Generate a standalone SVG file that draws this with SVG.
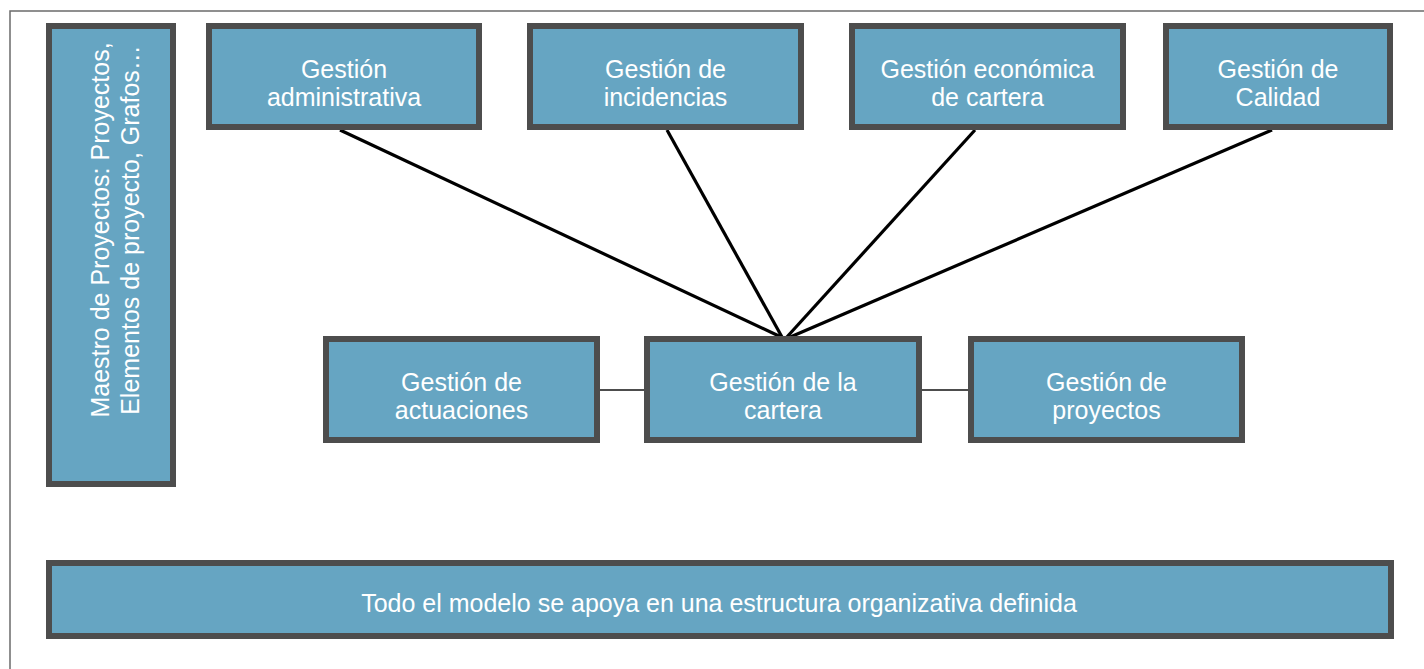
<svg xmlns="http://www.w3.org/2000/svg" width="1424" height="669" viewBox="0 0 1424 669">
<style>
.box{fill:#66a5c2;stroke:#4d4d4d;stroke-width:6}
.t{font-family:"Liberation Sans",Arial,sans-serif;font-size:25px;fill:#ffffff;text-anchor:middle}
.c{stroke:#000;stroke-width:3.2;fill:none}
.h{stroke:#4d4d4d;stroke-width:2;fill:none}
</style>
<rect x="10" y="11" width="1430" height="680" fill="#fff" stroke="#6b6b6b" stroke-width="1.5"/>
<g id="connectors">
<line class="c" x1="340" y1="130" x2="781" y2="337"/>
<line class="c" x1="667" y1="130" x2="782" y2="337"/>
<line class="c" x1="975" y1="130" x2="786" y2="338"/>
<line class="c" x1="1272" y1="130" x2="788" y2="338"/>
<line class="h" x1="600" y1="390" x2="644" y2="390"/>
<line class="h" x1="922" y1="390" x2="968" y2="390"/>
</g>
<g id="maestro">
<rect class="box" x="49" y="26" width="124" height="458"/>
<text class="t" transform="translate(109,230) rotate(-90)"><tspan x="0" y="0">Maestro de Proyectos: Proyectos,</tspan><tspan x="0" y="30">Elementos de proyecto, Grafos…</tspan></text>
</g>
<g id="administrativa">
<rect class="box" x="209" y="26" width="270" height="101"/>
<text class="t"><tspan x="344" y="78">Gestión</tspan><tspan x="344" y="106">administrativa</tspan></text>
</g>
<g id="incidencias">
<rect class="box" x="530" y="26" width="271" height="101"/>
<text class="t"><tspan x="665.5" y="78">Gestión de</tspan><tspan x="665.5" y="106">incidencias</tspan></text>
</g>
<g id="economica">
<rect class="box" x="852" y="26" width="271" height="101"/>
<text class="t"><tspan x="987.5" y="78">Gestión económica</tspan><tspan x="987.5" y="106">de cartera</tspan></text>
</g>
<g id="calidad">
<rect class="box" x="1166" y="26" width="224" height="101"/>
<text class="t"><tspan x="1278" y="78">Gestión de</tspan><tspan x="1278" y="106">Calidad</tspan></text>
</g>
<g id="actuaciones">
<rect class="box" x="326" y="339" width="271" height="101"/>
<text class="t"><tspan x="461.5" y="391">Gestión de</tspan><tspan x="461.5" y="419">actuaciones</tspan></text>
</g>
<g id="cartera">
<rect class="box" x="647" y="339" width="272" height="101"/>
<text class="t"><tspan x="783" y="391">Gestión de la</tspan><tspan x="783" y="419">cartera</tspan></text>
</g>
<g id="proyectos">
<rect class="box" x="971" y="339" width="271" height="101"/>
<text class="t"><tspan x="1106.5" y="391">Gestión de</tspan><tspan x="1106.5" y="419">proyectos</tspan></text>
</g>
<g id="estructura">
<rect class="box" x="49" y="563" width="1342" height="73"/>
<text class="t" x="719" y="612">Todo el modelo se apoya en una estructura organizativa definida</text>
</g>
</svg>
